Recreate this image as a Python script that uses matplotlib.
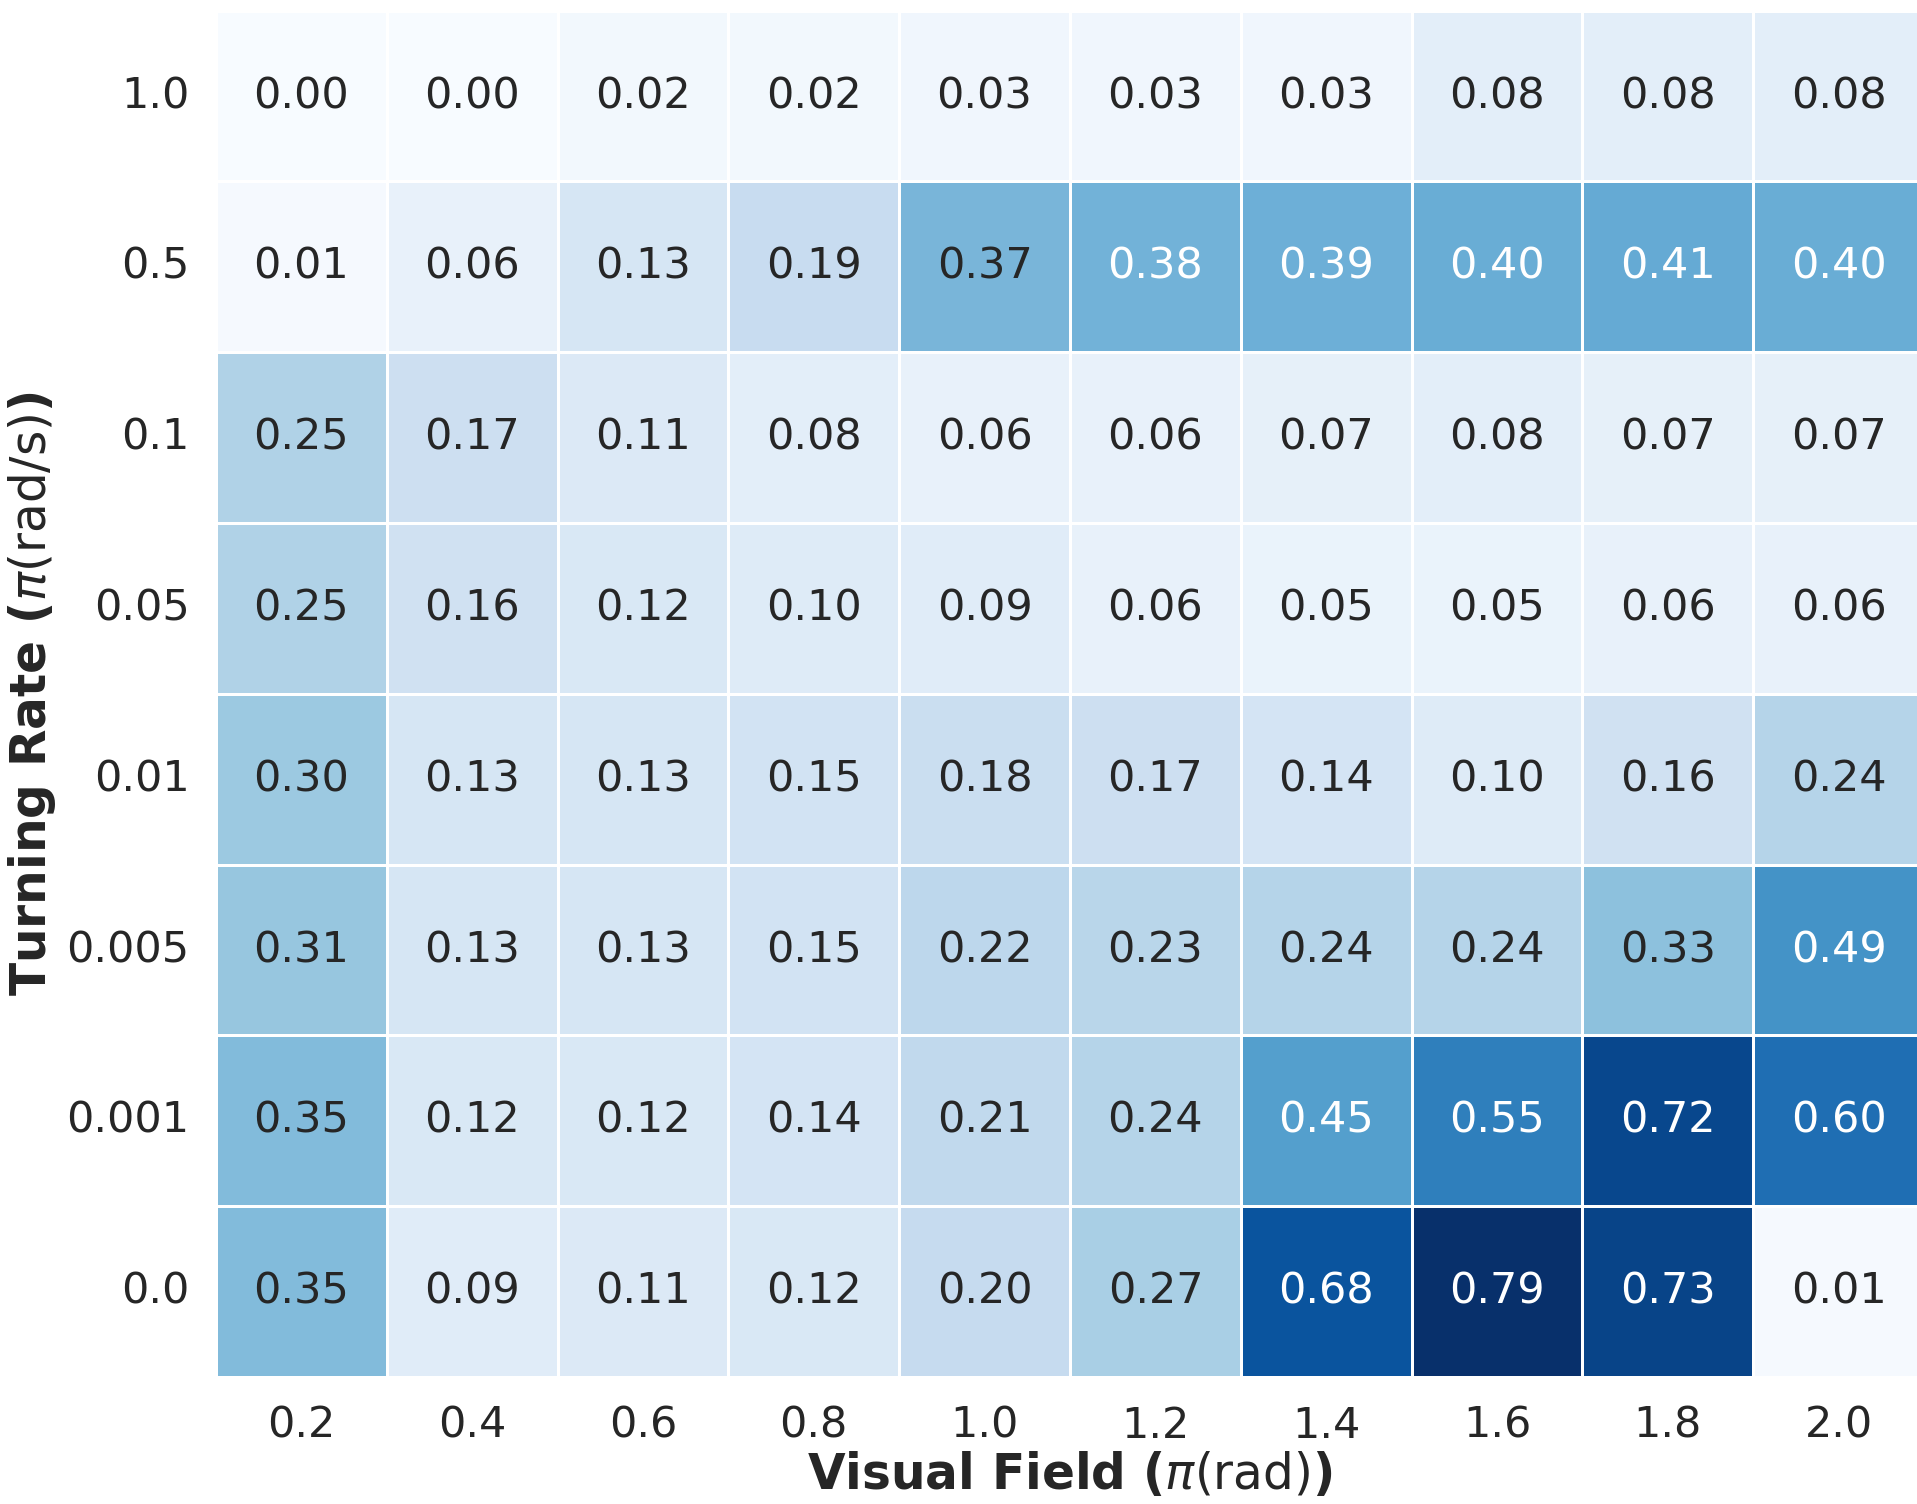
import numpy as np
import matplotlib
matplotlib.use("Agg")
import matplotlib.pyplot as plt
import seaborn as sns

# visual field (pi rad) along x, turning rate (pi rad/s) along y
visual_field = ["0.2", "0.4", "0.6", "0.8", "1.0", "1.2", "1.4", "1.6", "1.8", "2.0"]
turning_rate = ["1.0", "0.5", "0.1", "0.05", "0.01", "0.005", "0.001", "0.0"]

row_1_0 = [0.00, 0.00, 0.02, 0.02, 0.03, 0.03, 0.03, 0.08, 0.08, 0.08]
row_0_5 = [0.01, 0.06, 0.13, 0.19, 0.37, 0.38, 0.39, 0.40, 0.41, 0.40]
row_0_1 = [0.25, 0.17, 0.11, 0.08, 0.06, 0.06, 0.07, 0.08, 0.07, 0.07]
row_0_05 = [0.25, 0.16, 0.12, 0.10, 0.09, 0.06, 0.05, 0.05, 0.06, 0.06]
row_0_01 = [0.30, 0.13, 0.13, 0.15, 0.18, 0.17, 0.14, 0.10, 0.16, 0.24]
row_0_005 = [0.31, 0.13, 0.13, 0.15, 0.22, 0.23, 0.24, 0.24, 0.33, 0.49]
row_0_001 = [0.35, 0.12, 0.12, 0.14, 0.21, 0.24, 0.45, 0.55, 0.72, 0.60]
row_0_0 = [0.35, 0.09, 0.11, 0.12, 0.20, 0.27, 0.68, 0.79, 0.73, 0.01]

grid = np.array([row_1_0, row_0_5, row_0_1, row_0_05,
                 row_0_01, row_0_005, row_0_001, row_0_0])

sns.set_theme(style="white")

fig, ax = plt.subplots(figsize=(19.17, 15.04), dpi=100)
# last column runs slightly past the right edge, as in the original
fig.subplots_adjust(left=0.1126, right=1.0037, top=0.9929, bottom=0.0844)

sns.heatmap(grid, ax=ax, cmap="Blues", annot=True, fmt=".2f", cbar=False,
            linewidths=2, linecolor="white",
            xticklabels=visual_field, yticklabels=turning_rate,
            annot_kws={"fontsize": 31})

ax.tick_params(axis="x", labelsize=31, length=0, pad=20)
ax.tick_params(axis="y", labelsize=31, length=0, pad=19)
plt.setp(ax.get_yticklabels(), rotation=0)
ax.set_xlabel(r"Visual Field ($\pi\mathrm{(rad)}$)", fontsize=35, fontweight="bold", labelpad=2)
ax.set_ylabel(r"Turning Rate ($\pi\mathrm{(rad/s)}$)", fontsize=35, fontweight="bold", labelpad=6)

fig.savefig("out.png")
